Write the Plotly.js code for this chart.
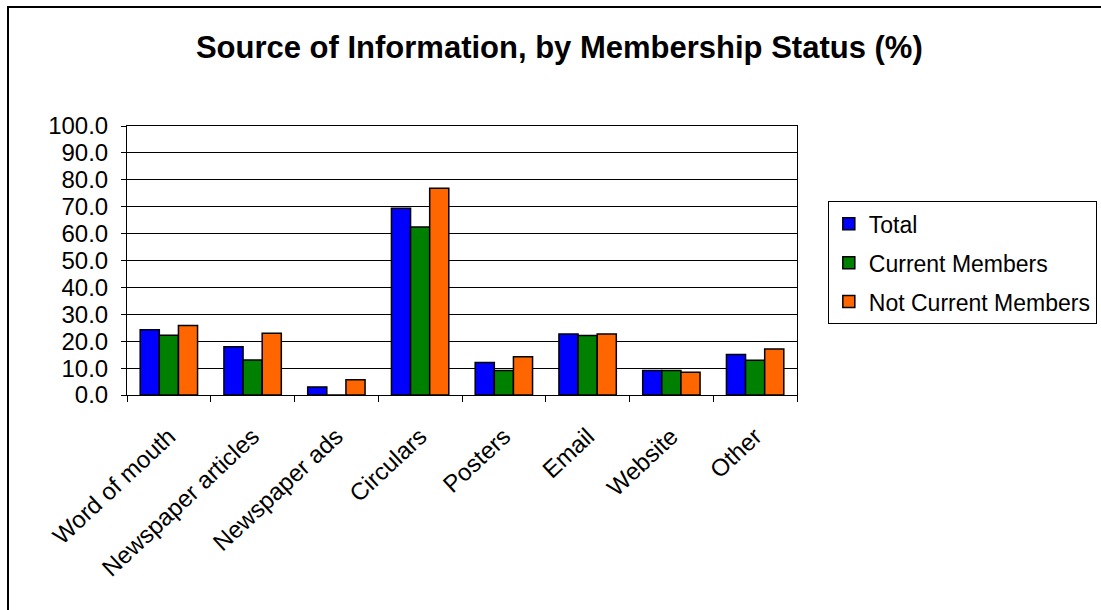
<!DOCTYPE html>
<html>
<head>
<meta charset="utf-8">
<script src="https://cdn.plot.ly/plotly-3.0.1.min.js"></script>
<style>
  html, body { margin: 0; padding: 0; background: #fff; }
  #wrap { position: relative; width: 1101px; height: 610px; overflow: hidden; }
  #chart { position: absolute; left: 0; top: 0; width: 1101px; height: 610px; }
  #frame { position: absolute; left: 7px; top: 6px; width: 1200px; height: 700px;
           border-left: 2px solid #000; border-top: 2px solid #000; pointer-events: none; }
</style>
</head>
<body>
<div id="wrap">
  <div id="chart"></div>
  <div id="frame"></div>
</div>
<script>
const categories = ["Word of mouth", "Newspaper articles", "Newspaper ads", "Circulars",
                    "Posters", "Email", "Website", "Other"];
const totalValues = [24.3, 17.9, 3.0, 69.4, 12.1, 22.7, 9.1, 15.1];
const currentValues = [22.2, 13.0, 0.0, 62.5, 9.1, 22.1, 9.1, 12.9];
const notCurrentValues = [25.8, 23.0, 5.7, 76.9, 14.2, 22.7, 8.5, 17.1];
const seriesNames = ["Total", "Current Members", "Not Current Members"];
const seriesColors = ["#0000FF", "#008000", "#FF6600"];

const seriesValues = [totalValues, currentValues, notCurrentValues];
const traces = seriesValues.map((vals, i) => ({
  type: "bar",
  name: seriesNames[i],
  x: categories,
  y: vals,
  legendgroup: "g" + i,
  marker: { color: seriesColors[i], line: { color: "#000", width: 1.5 } },
  hoverinfo: "x+y+name"
}));

const font = { family: "Liberation Sans, Arial, sans-serif", color: "#000" };

const layout = {
  width: 1101, height: 610,
  margin: { l: 127, r: 304, t: 126, b: 215, pad: 0, autoexpand: false },
  paper_bgcolor: "#fff", plot_bgcolor: "#fff",
  font: font,
  title: {
    text: "<b>Source of Information, by Membership Status (%)</b>",
    font: { family: font.family, size: 31, color: "#000" },
    xref: "container", yref: "container",
    x: 0.508, xanchor: "center", y: 0.922, yanchor: "middle"
  },
  barmode: "group",
  bargap: 0.315,
  bargroupgap: 0,
  xaxis: {
    type: "category",
    showline: true, linecolor: "#000", linewidth: 1, mirror: true,
    ticks: "outside", ticklen: 6, tickcolor: "#000", tickson: "boundaries",
    tickangle: -43, ticklabelstandoff: 17,
    tickfont: { family: font.family, size: 24, color: "#000" },
    showgrid: false, automargin: false
  },
  yaxis: {
    range: [0, 100], dtick: 10, tick0: 0, tickformat: ".1f",
    showline: true, linecolor: "#000", linewidth: 1, mirror: true,
    ticks: "outside", ticklen: 5, tickcolor: "#000", ticklabelstandoff: 8,
    tickfont: { family: font.family, size: 24, color: "#000" },
    showgrid: true, gridcolor: "#000", gridwidth: 1,
    zeroline: false, automargin: false
  },
  showlegend: true,
  legend: {
    x: 1.046, xanchor: "left", y: 0.72, yanchor: "top",
    bordercolor: "#000", borderwidth: 1, bgcolor: "#fff",
    font: { family: font.family, size: 23, color: "#000" },
    tracegroupgap: 6, traceorder: "grouped"
  }
};

Plotly.newPlot("chart", traces, layout, { displayModeBar: false, staticPlot: true });
</script>
</body>
</html>
